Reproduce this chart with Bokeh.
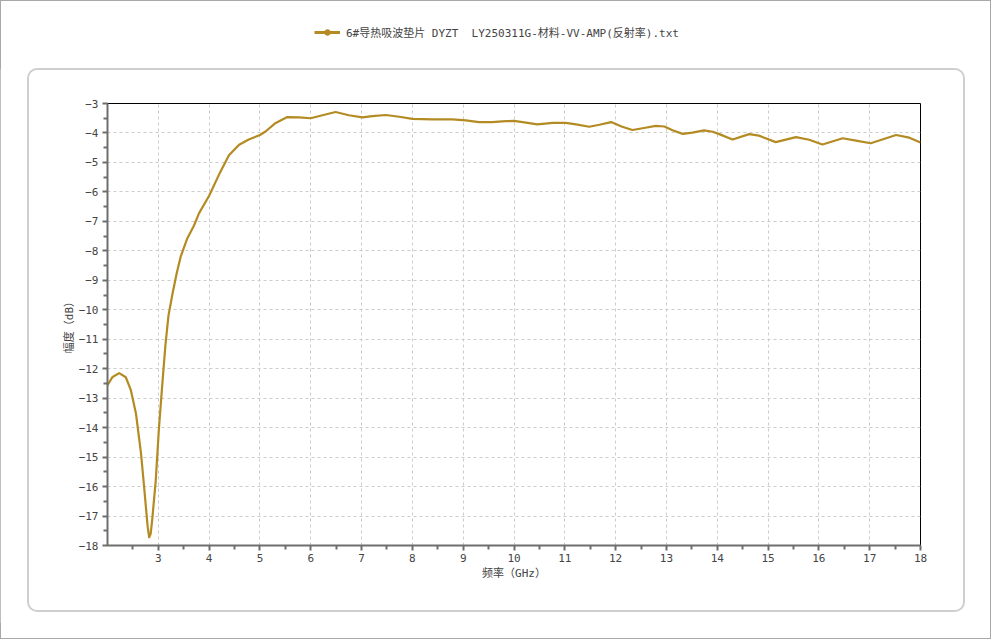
from bokeh.plotting import figure
from bokeh.layouts import column
from bokeh.models import (Range1d, FixedTicker, Legend, LegendItem, ColumnDataSource)
from bokeh.embed import file_html
from bokeh.resources import INLINE

# ---------------- data ----------------
freq = [2.0, 2.1, 2.23, 2.36, 2.46, 2.56, 2.66, 2.72, 2.79, 2.82, 2.85, 2.88, 2.95, 3.01,
        3.08, 3.14, 3.2, 3.28, 3.36, 3.44, 3.57, 3.7, 3.8, 4.0, 4.19, 4.39, 4.59, 4.78,
        5.0, 5.11, 5.31, 5.54, 5.77, 6.0, 6.23, 6.49, 6.75, 7.02, 7.21, 7.48, 7.74, 8.0,
        8.39, 8.79, 9.05, 9.31, 9.57, 9.84, 10.0, 10.17, 10.46, 10.76, 11.02, 11.22,
        11.48, 11.68, 11.91, 12.13, 12.33, 12.53, 12.79, 12.96, 13.12, 13.32, 13.51,
        13.74, 13.91, 14.04, 14.3, 14.63, 14.82, 15.15, 15.55, 15.81, 16.07, 16.47,
        16.73, 17.02, 17.52, 17.78, 18.0]
amp = [-12.56, -12.28, -12.15, -12.29, -12.73, -13.52, -14.88, -16.0, -17.36, -17.72,
       -17.6, -17.13, -15.78, -14.08, -12.5, -11.2, -10.2, -9.45, -8.78, -8.2, -7.58,
       -7.15, -6.73, -6.13, -5.43, -4.76, -4.40, -4.22, -4.07, -3.95, -3.66, -3.46,
       -3.47, -3.50, -3.40, -3.29, -3.40, -3.47, -3.43, -3.39, -3.45, -3.52, -3.54,
       -3.54, -3.57, -3.63, -3.63, -3.60, -3.59, -3.63, -3.71, -3.66, -3.66, -3.71,
       -3.79, -3.72, -3.63, -3.79, -3.90, -3.84, -3.76, -3.78, -3.91, -4.03, -3.99,
       -3.91, -3.96, -4.04, -4.22, -4.04, -4.09, -4.31, -4.14, -4.23, -4.39, -4.18,
       -4.26, -4.35, -4.07, -4.16, -4.32]

x_major = [3, 4, 5, 6, 7, 8, 9, 10, 11, 12, 13, 14, 15, 16, 17, 18]
x_minor = [2.5, 3.5, 4.5, 5.5, 6.5, 7.5, 8.5, 9.5, 10.5, 11.5, 12.5, 13.5, 14.5, 15.5,
           16.5, 17.5]
y_major = [-3, -4, -5, -6, -7, -8, -9, -10, -11, -12, -13, -14, -15, -16, -17, -18]
y_minor = [-3.5, -4.5, -5.5, -6.5, -7.5, -8.5, -9.5, -10.5, -11.5, -12.5, -13.5, -14.5,
           -15.5, -16.5, -17.5]

series_name = "6#导热吸波垫片 DYZT  LY250311G-材料-VV-AMP(反射率).txt"
x_title = "频率（GHz）"
y_title = "幅度（dB）"

LINE_COLOR = "#B38B22"
AXIS_COLOR = "#6e6e6e"
TEXT_COLOR = "#444444"
FONT = "DejaVu Sans Mono, Noto Sans CJK SC"

src = ColumnDataSource(dict(freq=freq, amp=amp))

# ---------------- legend strip ----------------
lg = figure(width=975, height=68, output_backend="svg", toolbar_location=None,
            x_axis_type=None, y_axis_type=None,
            x_range=Range1d(2, 18), y_range=Range1d(-18, -3),
            min_border_left=0, min_border_right=0, min_border_top=0,
            min_border_bottom=0)
lg.outline_line_color = None
lg.xgrid.visible = False
lg.ygrid.visible = False
lg.stylesheets = [":host { position: relative; } "
                  ":host::after { content: ''; position: absolute; left: 0px; top: 0px; "
                  "width: 991px; height: 639px; box-sizing: border-box; "
                  "border: 1px solid #a8a8a8; pointer-events: none; }"]
lg_line = lg.line("freq", "amp", source=src, line_color=LINE_COLOR, line_width=3,
                  visible=False)
lg_dot = lg.scatter("freq", "amp", source=src, size=8, fill_color=LINE_COLOR,
                    line_color=LINE_COLOR, visible=False)
legend = Legend(items=[LegendItem(label=series_name, renderers=[lg_line, lg_dot])],
                location=(207, 28), orientation="horizontal",
                glyph_width=26, glyph_height=14, label_height=14,
                label_standoff=6, padding=0, margin=0, spacing=0,
                border_line_alpha=0, background_fill_alpha=0,
                label_text_font=FONT, label_text_font_size="11px",
                label_text_color=TEXT_COLOR)
lg.add_layout(legend)

# ---------------- main chart ----------------
p = figure(width=975, height=555, output_backend="svg", toolbar_location=None,
           x_range=Range1d(2, 18), y_range=Range1d(-18, -3),
           min_border_left=107, min_border_right=55, min_border_top=35,
           min_border_bottom=78)
p.background_fill_color = "white"
p.border_fill_color = "white"
p.outline_line_color = "black"
p.outline_line_width = 1
p.stylesheets = [":host { position: relative; } "
                 ":host::after { content: ''; position: absolute; left: 27px; top: 0px; "
                 "width: 938px; height: 544px; box-sizing: border-box; "
                 "border: 2px solid #cfcfcf; border-radius: 10px; pointer-events: none; }"]

for ax, major, minor in ((p.xaxis[0], x_major, x_minor), (p.yaxis[0], y_major, y_minor)):
    ax.ticker = FixedTicker(ticks=major, minor_ticks=minor)
    ax.axis_line_color = AXIS_COLOR
    ax.axis_line_width = 2
    ax.major_tick_line_color = AXIS_COLOR
    ax.major_tick_line_width = 2
    ax.minor_tick_line_color = AXIS_COLOR
    ax.minor_tick_line_width = 2
    ax.major_tick_in = 0
    ax.major_tick_out = 5
    ax.minor_tick_in = 0
    ax.minor_tick_out = 4
    ax.major_label_text_font = FONT
    ax.major_label_text_font_size = "11px"
    ax.major_label_text_color = TEXT_COLOR
    ax.axis_label_text_font = FONT
    ax.axis_label_text_font_size = "11px"
    ax.axis_label_text_font_style = "normal"
    ax.axis_label_text_color = TEXT_COLOR

p.xaxis.axis_label = x_title
p.yaxis.axis_label = y_title
p.xaxis.major_label_standoff = 3
p.xaxis.axis_label_standoff = 2
p.yaxis.major_label_standoff = 4
p.yaxis.axis_label_standoff = 0

for g in (p.xgrid[0], p.ygrid[0]):
    g.grid_line_color = "#cccccc"
    g.grid_line_dash = "3 3"
    g.grid_line_width = 1

p.line("freq", "amp", source=src, line_color=LINE_COLOR, line_width=2.2,
       line_join="round")

layout = column(lg, p, spacing=0)
open("out.html", "w").write(file_html(layout, INLINE))
